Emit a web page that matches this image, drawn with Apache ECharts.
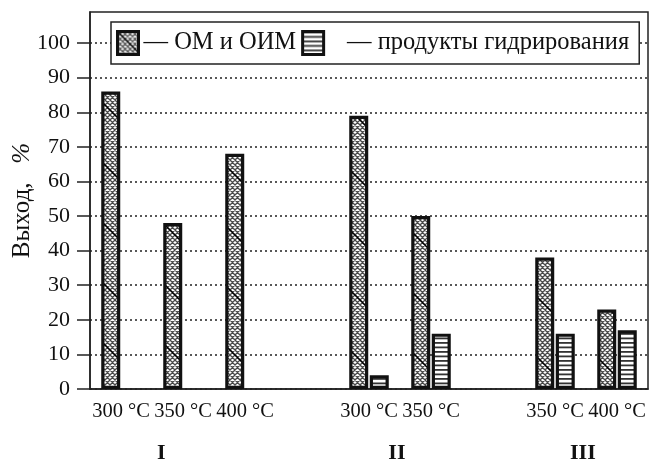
<!DOCTYPE html>
<html>
<head>
<meta charset="utf-8">
<script src="https://cdn.jsdelivr.net/npm/echarts@6/dist/echarts.min.js"></script>
<style>
  html, body { margin: 0; padding: 0; background: #fff; }
  #chart { width: 656px; height: 461px; }
</style>
</head>
<body>
<div id="chart"></div>
<script>
// Temperature slots (empty strings are spacers between groups)
const categories = ['300 °C', '350 °C', '400 °C', '', '300 °C', '350 °C', '', '350 °C', '400 °C'];
// Yield of OM and OIM, %
const omValues = [86, 48, 68, '-', 79, 50, '-', 38, 23];
// Yield of hydrogenation products, %
const hydroValues = ['-', '-', '-', '-', 4, 16, '-', 16, 17];
// Y axis tick values
const yTicks = [0, 10, 20, 30, 40, 50, 60, 70, 80, 90, 100];
// Group captions under the temperature labels
const groupNames = ['I', 'II', 'III'];

const seriesNames = ['ОМ и ОИМ', 'продукты гидрирования'];

// Layout: centre of each group caption, in category-index units
const groupCenters = [0.65, 4.45, 7.45];

const FONT = '"Liberation Serif", "Times New Roman", serif';

// Cross-hatched fill with a sparse darker diagonal
function crossHatch() {
  const s = 60, step = 5;
  const c = document.createElement('canvas');
  c.width = s; c.height = s;
  const g = c.getContext('2d');
  g.fillStyle = '#fff';
  g.fillRect(0, 0, s, s);
  g.strokeStyle = '#4a4a4a';
  g.lineWidth = 1.3;
  g.beginPath();
  for (let k = -s; k <= 2 * s; k += step) {
    g.moveTo(k, 0); g.lineTo(k + s, s);
    g.moveTo(k, 0); g.lineTo(k - s, s);
  }
  g.stroke();
  g.strokeStyle = '#000';
  g.lineWidth = 1.4;
  g.beginPath();
  g.moveTo(-2, -2); g.lineTo(s + 2, s + 2);
  g.moveTo(s - 2, -2); g.lineTo(s + 2, 2);
  g.moveTo(-2, s - 2); g.lineTo(2, s + 2);
  g.stroke();
  return { image: c, repeat: 'repeat' };
}

// Horizontal line fill
function hLines() {
  const c = document.createElement('canvas');
  c.width = 8; c.height = 9;
  const g = c.getContext('2d');
  g.fillStyle = '#fff';
  g.fillRect(0, 0, 8, 9);
  g.fillStyle = '#333';
  g.fillRect(0, 0, 8, 1.8);
  g.fillRect(0, 4.5, 8, 1.8);
  return { image: c, repeat: 'repeat' };
}

const chart = echarts.init(document.getElementById('chart'), null, { renderer: 'canvas' });

const option = {
  backgroundColor: '#fff',
  animation: false,
  textStyle: { fontFamily: FONT, color: '#111' },
  grid: {
    left: 90, right: 8, top: 12, bottom: 72,
    containLabel: false,
    outerBoundsMode: 'none',
    show: true, borderColor: '#222', borderWidth: 1.5
  },
  legend: {
    left: 111, top: 22,
    orient: 'horizontal',
    icon: 'rect',
    itemWidth: 21, itemHeight: 23,
    itemGap: 5,
    padding: [8, 10, 8, 5],
    backgroundColor: '#fff',
    borderColor: '#222', borderWidth: 1.5,
    itemStyle: { borderColor: '#111', borderWidth: 3 },
    textStyle: { fontFamily: FONT, fontSize: 24.5, color: '#111' },
    formatter: function (name) {
      return name === seriesNames[0] ? '— ' + name : '\u2002 — ' + name;
    },
    data: seriesNames
  },
  xAxis: {
    type: 'category',
    data: categories,
    axisTick: { show: false },
    axisLine: { lineStyle: { color: '#222', width: 1.5 } },
    axisLabel: { interval: 0, fontFamily: FONT, fontSize: 20.5, color: '#111', margin: 12 }
  },
  yAxis: {
    type: 'value',
    min: 0, max: 109, interval: 10,
    name: '{a|Выход,}   {b|%}',
    nameLocation: 'middle',
    nameGap: 55,
    nameRotate: 90,
    nameMoveOverlap: false,
    nameTextStyle: {
      fontFamily: FONT, fontSize: 25, color: '#111',
      rich: {
        a: { fontFamily: FONT, fontSize: 25, color: '#111' },
        b: { fontFamily: FONT, fontSize: 25, color: '#111', fontStyle: 'italic' }
      }
    },
    axisLine: { show: true, lineStyle: { color: '#222', width: 1.5 } },
    axisTick: { show: true, length: 13, customValues: yTicks, lineStyle: { color: '#222', width: 1.5 } },
    axisLabel: {
      customValues: yTicks,
      fontFamily: FONT, fontSize: 22, color: '#111', margin: 20,
      formatter: function (v) { return (v % 10 === 0 && v <= 100) ? String(v) : ''; }
    },
    splitLine: { show: true, lineStyle: { color: '#222', width: 1.5, type: [2, 3] } }
  },
  series: [
    {
      name: seriesNames[0],
      type: 'bar',
      data: omValues,
      barWidth: 19,
      barGap: '8%',
      itemStyle: { color: crossHatch(), borderColor: '#111', borderWidth: 3.2 }
    },
    {
      name: seriesNames[1],
      type: 'bar',
      data: hydroValues,
      barWidth: 19,
      itemStyle: { color: hLines(), borderColor: '#111', borderWidth: 3.2 }
    }
  ]
};

chart.setOption(option);

// Group captions placed from the category axis scale
function slotX(pos) {
  const i0 = Math.floor(pos), i1 = Math.min(i0 + 1, categories.length - 1);
  const x0 = chart.convertToPixel({ xAxisIndex: 0 }, i0);
  const x1 = chart.convertToPixel({ xAxisIndex: 0 }, i1);
  return x0 + (x1 - x0) * (pos - i0);
}
const gridBottom = chart.convertToPixel({ yAxisIndex: 0 }, 0);
chart.setOption({
  graphic: groupNames.map(function (name, i) {
    return {
      type: 'text',
      x: slotX(groupCenters[i]),
      y: gridBottom + 64,
      style: {
        text: name,
        font: 'bold 22px ' + FONT,
        fill: '#111',
        align: 'center',
        verticalAlign: 'middle'
      }
    };
  })
});
</script>
</body>
</html>
